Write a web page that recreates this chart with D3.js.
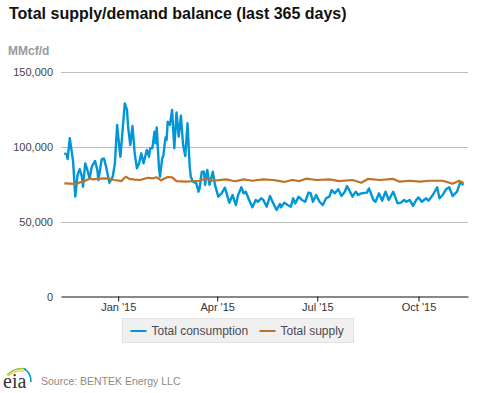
<!DOCTYPE html>
<html>
<head>
<meta charset="utf-8">
<script src="https://cdnjs.cloudflare.com/ajax/libs/d3/7.8.5/d3.min.js"></script>
<style>
  html, body { margin: 0; padding: 0; background: #fff; }
  svg { display: block; font-family: "Liberation Sans", Arial, sans-serif; }
</style>
</head>
<body>
<svg id="chart" width="477" height="393"></svg>
<script>
// days are counted from Jan 1 2015, values in MMcf/d
var consumptionDays = [-49,-47,-46,-44,-42,-41,-39,-37,-35,-33,-32,-30,-28,-26,-24,-21,-19,-18,-15,-13,-11,-8,-5,-3,-1,1,2,4,6,8,9,11,13,15,17,19,21,23,26,28,29,31,33,34,35,37,38,40,41,43,44,45,47,49,51,53,55,57,59,61,63,65,66,68,71,73,74,76,78,79,81,83,86,88,91,94,97,101,104,107,109,112,114,116,119,122,125,127,130,132,135,138,141,144,147,148,151,154,157,159,161,164,167,170,173,175,177,180,183,186,189,192,194,197,200,203,206,208,210,213,216,218,221,226,228,232,234,237,240,243,246,250,254,257,260,262,265,268,271,273,276,280,282,286,290,292,295,298,301,304,308,311,314];
var consumptionValues = [95800,95300,92000,105800,95800,90200,66900,81300,85300,80200,73500,89100,84700,79100,86900,90700,84700,78000,91800,92400,86900,76200,80200,89100,114700,100200,93500,111300,129100,124700,113500,101300,114000,95800,85800,89100,95800,89100,98000,93500,99100,99100,110200,102400,113100,86900,80200,92400,94000,106400,104700,116900,114700,124700,99100,123100,106900,120900,101300,94000,115800,86900,80200,76900,75800,70200,72400,83500,83500,74700,84700,74700,83500,74700,66900,69100,72900,62900,68000,61300,68000,73100,69100,70200,64700,59800,64700,63500,65800,64700,60200,67300,62400,58000,62000,59800,62900,61300,60200,65800,62400,66900,64700,63500,69600,69100,63500,68000,63500,61300,65800,66900,71300,69100,71800,67300,70200,74000,71300,66900,70200,68000,69100,69600,72400,64700,63500,69100,64200,70200,64700,70200,62400,62900,64700,63500,64700,60700,64700,66400,63500,65800,64200,68000,73100,65800,68000,71800,73100,67300,70200,76400,74700];
var supplyDays = [-49,-44,-38,-35,-32,-28,-26,-23,-18,-11,-3,3,5,7,10,15,20,27,31,35,39,45,49,53,62,74,80,86,98,104,107,114,122,132,141,151,158,165,171,180,192,201,213,221,227,238,250,256,265,274,283,295,304,310,314];
var supplyValues = [75800,75600,75300,76400,76900,78200,79100,78400,78900,79100,78000,77300,78900,80200,78700,78200,78000,79500,79100,79800,77800,80000,79800,77300,76900,77500,78900,77500,78400,77500,77300,78400,77500,78400,78000,76700,78000,77300,78900,78000,78400,77300,78000,76200,78700,78000,78700,76900,77500,76900,77500,77500,75500,77500,75800];

var yTicks = [0, 50000, 100000, 150000];
var xTickDays = [0, 90, 181, 273];
var seriesNames = ['Total consumption', 'Total supply'];
var seriesColors = ['#0096d7', '#bd732a'];

function dayToDate(d) { return new Date(2015, 0, 1 + d); }

var svg = d3.select('#chart');

var x = d3.scaleTime()
    .domain([dayToDate(-52), dayToDate(318)])
    .range([61, 468]);
var y = d3.scaleLinear()
    .domain([0, 150000])
    .range([297, 72]);

// title and unit
svg.append('text').attr('x', 9).attr('y', 19)
    .attr('font-size', 16).attr('font-weight', 'bold').attr('fill', '#111')
    .text('Total supply/demand balance (last 365 days)');
svg.append('text').attr('x', 8).attr('y', 55)
    .attr('font-size', 12).attr('font-weight', 'bold').attr('fill', '#9a9a9a')
    .text('MMcf/d');

// grid lines and y labels
svg.selectAll('line.grid').data(yTicks.filter(function (t) { return t > 0; }))
    .enter().append('line').attr('class', 'grid')
    .attr('x1', 61).attr('x2', 468)
    .attr('y1', function (d) { return y(d) + 0.5; })
    .attr('y2', function (d) { return y(d) + 0.5; })
    .attr('stroke', '#bdbdbd').attr('stroke-width', 1);

var yAxis = svg.append('g')
    .attr('transform', 'translate(61,0)')
    .call(d3.axisLeft(y).tickValues(yTicks).tickSize(0).tickPadding(8).tickFormat(d3.format(',')));
yAxis.select('.domain').remove();
yAxis.selectAll('text').attr('font-size', 11).attr('fill', '#444')
    .attr('font-family', '"Liberation Sans", Arial, sans-serif');

// x axis
var xAxis = svg.append('g')
    .attr('transform', 'translate(0,296.5)')
    .call(d3.axisBottom(x)
        .tickValues(xTickDays.map(dayToDate))
        .tickSize(5).tickSizeOuter(0).tickPadding(2)
        .tickFormat(d3.timeFormat("%b '%y")));
xAxis.select('.domain').attr('stroke', '#111');
xAxis.selectAll('.tick line').attr('stroke', '#111');
xAxis.selectAll('text').attr('font-size', 11).attr('fill', '#333')
    .attr('font-family', '"Liberation Sans", Arial, sans-serif');

// the two series
var line = d3.line()
    .x(function (d) { return x(dayToDate(d[0])); })
    .y(function (d) { return y(d[1]); });

svg.append('path').datum(d3.zip(consumptionDays, consumptionValues))
    .attr('d', line).attr('fill', 'none')
    .attr('stroke', seriesColors[0]).attr('stroke-width', 2.4).attr('stroke-linejoin', 'round');
svg.append('path').datum(d3.zip(supplyDays, supplyValues))
    .attr('d', line).attr('fill', 'none')
    .attr('stroke', seriesColors[1]).attr('stroke-width', 2.2).attr('stroke-linejoin', 'round');

// legend
var legend = svg.append('g').attr('transform', 'translate(122.5,318.5)');
legend.append('rect').attr('width', 231).attr('height', 24)
    .attr('fill', '#f0f0f0').attr('stroke', '#e2e2e2');
var legendX = [8, 137];
var legendTextX = [29, 158];
seriesNames.forEach(function (name, i) {
    legend.append('line')
        .attr('x1', legendX[i]).attr('x2', legendX[i] + 16)
        .attr('y1', 12.5).attr('y2', 12.5)
        .attr('stroke', seriesColors[i]).attr('stroke-width', 2);
    legend.append('text')
        .attr('x', legendTextX[i]).attr('y', 16.5)
        .attr('font-size', 12).attr('fill', '#4a4a55')
        .text(name);
});

// eia logo and source
var logo = svg.append('g');
logo.append('path').attr('d', 'M7,375 Q15,367 26,369')
    .attr('fill', 'none').attr('stroke', '#8dc63f').attr('stroke-width', 1.5);
logo.append('path').attr('d', 'M8,376 Q15,370 24,371')
    .attr('fill', 'none').attr('stroke', '#f2c230').attr('stroke-width', 1.2);
logo.append('path').attr('d', 'M24,369 Q31,372 31,382')
    .attr('fill', 'none').attr('stroke', '#0096d7').attr('stroke-width', 1.6);
logo.append('text').attr('x', 3).attr('y', 388)
    .attr('font-family', '"Liberation Serif", serif')
    .attr('font-size', 20).attr('fill', '#333')
    .text('eia');
svg.append('text').attr('x', 41).attr('y', 385)
    .attr('font-size', 10.5).attr('fill', '#8f8a80')
    .text('Source: BENTEK Energy LLC');
</script>
</body>
</html>
